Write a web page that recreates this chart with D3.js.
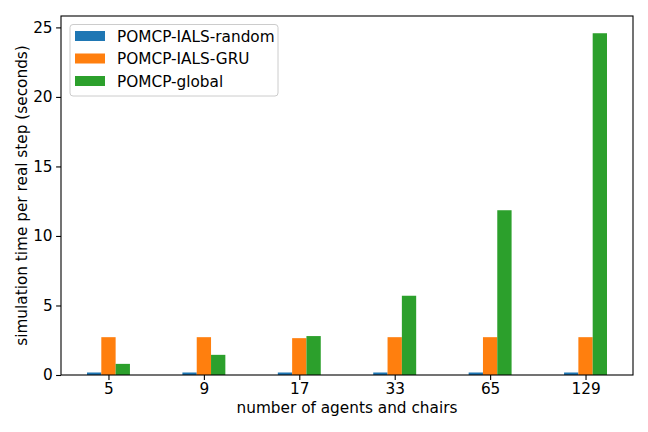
<!DOCTYPE html>
<html><head><meta charset="utf-8">
<script src="https://cdn.jsdelivr.net/npm/d3@7"></script>
<style>body{margin:0;background:#fff}svg{display:block}text{font-family:"DejaVu Sans",sans-serif}</style>
</head><body><svg id="c" width="648" height="432"></svg>
<script>
const categories = ["5","9","17","33","65","129"];
const seriesNames = ["POMCP-IALS-random","POMCP-IALS-GRU","POMCP-global"];
const randomVals = [0.18,0.18,0.18,0.18,0.18,0.18];
const gruVals = [2.72,2.72,2.65,2.72,2.72,2.72];
const globalVals = [0.8,1.45,2.8,5.7,11.85,24.58];
const yTicks = [0,5,10,15,20,25];
const colors = ["#1f77b4","#ff7f0e","#2ca02c"];
const series = [randomVals,gruVals,globalVals];
const FS = "15.3px";

const svg = d3.select("#c");
const L=61,R=633,T=16,B=375;
const x = d3.scaleLinear().domain([-0.4975,5.4975]).range([L,R]);
const y = d3.scaleLinear().domain([0,25.82]).range([B,T]);
const bw = 0.15;

series.forEach((vals,si)=>{
  svg.append("g").selectAll("rect").data(vals).join("rect")
    .attr("x",(d,i)=>x(i+(si-1)*bw-bw/2))
    .attr("width",(d,i)=>x(i+(si-1)*bw+bw/2)-x(i+(si-1)*bw-bw/2))
    .attr("y",d=>y(d)).attr("height",d=>B-y(d))
    .attr("fill",colors[si]);
});

const xa = svg.append("g").attr("transform",`translate(0,${B})`)
  .call(d3.axisBottom(x).tickValues(d3.range(categories.length)).tickFormat(i=>categories[i]).tickSize(4.9).tickPadding(3.5));
const ya = svg.append("g").attr("transform",`translate(${L},0)`)
  .call(d3.axisLeft(y).tickValues(yTicks).tickSize(4.9).tickPadding(3.5));
[xa,ya].forEach(a=>{a.select(".domain").remove();a.selectAll("text").attr("font-size",FS).attr("fill","#000").style("font-family","DejaVu Sans");a.selectAll("line").attr("stroke","#000").attr("stroke-width",1.1);});

svg.append("rect").attr("x",L).attr("y",T).attr("width",R-L).attr("height",B-T)
  .attr("fill","none").attr("stroke","#000").attr("stroke-width",1.1);

svg.append("text").attr("x",(L+R)/2).attr("y",413).attr("text-anchor","middle")
  .attr("font-size",FS).text("number of agents and chairs");
svg.append("text").attr("transform",`translate(26.5,${(T+B)/2}) rotate(-90)`).attr("text-anchor","middle")
  .attr("font-size",FS).text("simulation time per real step (seconds)");

const lg = svg.append("g");
lg.append("rect").attr("x",70).attr("y",24.5).attr("width",208).attr("height",71.5).attr("rx",3)
  .attr("fill","#fff").attr("fill-opacity",0.8).attr("stroke","#ccc").attr("stroke-width",1);
seriesNames.forEach((n,i)=>{
  const yy = 36+i*22.5;
  lg.append("rect").attr("x",75).attr("y",yy-5).attr("width",30).attr("height",10).attr("fill",colors[i]);
  lg.append("text").attr("x",117).attr("y",yy+5.5).attr("font-size",FS).text(n);
});
</script></body></html>
